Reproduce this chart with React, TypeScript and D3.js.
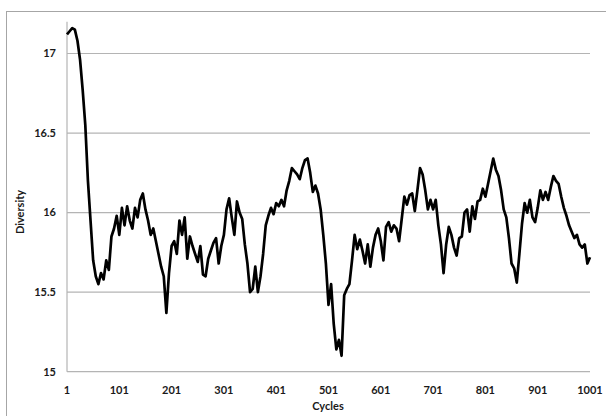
import React from "react";
import * as d3 from "d3";

// Diversity measured every 5 cycles, from cycle 1 to cycle 1001
const cycleStep = 5;
const diversity = [
  17.12, 17.14, 17.16, 17.15, 17.08, 16.96, 16.77, 16.55, 16.2, 15.95,
  15.7, 15.6, 15.55, 15.62, 15.58, 15.7, 15.64, 15.85, 15.9, 15.98,
  15.86, 16.03, 15.92, 16.04, 15.95, 15.9, 16.03, 15.97, 16.08, 16.12,
  16.02, 15.95, 15.86, 15.9, 15.82, 15.74, 15.66, 15.6, 15.37, 15.62,
  15.79, 15.82, 15.74, 15.95, 15.86, 15.97, 15.71, 15.85, 15.79, 15.74,
  15.69, 15.79, 15.61, 15.6, 15.71, 15.76, 15.81, 15.84, 15.68, 15.79,
  15.86, 16.02, 16.09, 15.97, 15.86, 16.07, 16.0, 15.96, 15.8, 15.68,
  15.5, 15.52, 15.66, 15.5, 15.6, 15.74, 15.92, 15.98, 16.03, 15.99,
  16.06, 16.04, 16.08, 16.04, 16.14, 16.2, 16.28, 16.26, 16.24, 16.21,
  16.28, 16.33, 16.34, 16.25, 16.13, 16.17, 16.12, 16.02, 15.86, 15.68,
  15.42, 15.55, 15.3, 15.14, 15.2, 15.1, 15.48, 15.52, 15.55, 15.7,
  15.86, 15.77, 15.83, 15.76, 15.68, 15.8, 15.66, 15.78, 15.86, 15.9,
  15.82, 15.7, 15.91, 15.94, 15.88, 15.92, 15.9, 15.82, 15.96, 16.1,
  16.05, 16.11, 16.12, 16.01, 16.14, 16.28, 16.24, 16.14, 16.02, 16.08,
  16.02, 16.08, 15.92, 15.8, 15.62, 15.8, 15.91, 15.86, 15.78, 15.73,
  15.84, 15.85, 16.0, 16.02, 15.88, 16.04, 15.96, 16.07, 16.08, 16.15,
  16.1, 16.18, 16.26, 16.34, 16.27, 16.23, 16.14, 16.02, 15.97, 15.84,
  15.68, 15.65, 15.56, 15.74, 15.93, 16.06, 16.0, 16.08, 15.97, 15.94,
  16.03, 16.14, 16.08, 16.13, 16.08, 16.16, 16.23, 16.2, 16.18, 16.1,
  16.03, 15.98, 15.92, 15.88, 15.84, 15.86, 15.8, 15.78, 15.8, 15.68,
  15.72,
];
const xTicks = [1, 101, 201, 301, 401, 501, 601, 701, 801, 901, 1001];
const yTicks = [15, 15.5, 16, 16.5, 17];

const W = 606;
const H = 416;
const plot = { left: 67, right: 590, top: 21.7, bottom: 371.7 };
const font = "Lato, Calibri, 'Liberation Sans', sans-serif";

export default function App() {
  const x = d3.scaleLinear().domain([1, 1001]).range([plot.left, plot.right]);
  const y = d3.scaleLinear().domain([15, 17.2]).range([plot.bottom, plot.top]);
  const points: [number, number][] = diversity.map((v, i) => [1 + i * cycleStep, v]);
  const line = d3
    .line<[number, number]>()
    .x((d) => x(d[0]))
    .y((d) => y(d[1]));

  return (
    <svg
      width={W}
      height={H}
      style={{ position: "absolute", left: 0, top: 0, background: "#fff" }}
    >
      <rect x={6.5} y={11.5} width={W + 10} height={H + 10} fill="#fff" stroke="#a6a6a6" />
      {yTicks.map((t) => (
        <g key={t}>
          {t !== 15 && (
            <line
              x1={plot.left}
              x2={plot.right}
              y1={y(t)}
              y2={y(t)}
              stroke="#b4b4b4"
              strokeWidth={1.2}
            />
          )}
          <text
            x={56}
            y={y(t)}
            dy="0.35em"
            textAnchor="end"
            fontFamily={font}
            fontWeight="bold"
            fontSize={11}
            fill="#1a1a1a"
          >
            {t}
          </text>
        </g>
      ))}
      <line x1={plot.left} x2={plot.left} y1={plot.top} y2={plot.bottom} stroke="#b4b4b4" strokeWidth={1.2} />
      <line x1={plot.left} x2={plot.right} y1={plot.bottom} y2={plot.bottom} stroke="#b4b4b4" strokeWidth={1.2} />
      {xTicks.map((t) => (
        <text
          key={t}
          x={x(t)}
          y={394}
          textAnchor="middle"
          fontFamily={font}
          fontWeight="bold"
          fontSize={11}
          fill="#1a1a1a"
        >
          {t}
        </text>
      ))}
      <text
        x={328}
        y={410}
        textAnchor="middle"
        fontFamily={font}
        fontWeight="bold"
        fontSize={11}
        fill="#1a1a1a"
      >
        Cycles
      </text>
      <text
        transform={`translate(24,${212}) rotate(-90)`}
        textAnchor="middle"
        fontFamily={font}
        fontWeight="bold"
        fontSize={11}
        fill="#1a1a1a"
      >
        Diversity
      </text>
      <path
        d={line(points) ?? ""}
        fill="none"
        stroke="#000"
        strokeWidth={2.7}
        strokeLinejoin="round"
      />
    </svg>
  );
}
